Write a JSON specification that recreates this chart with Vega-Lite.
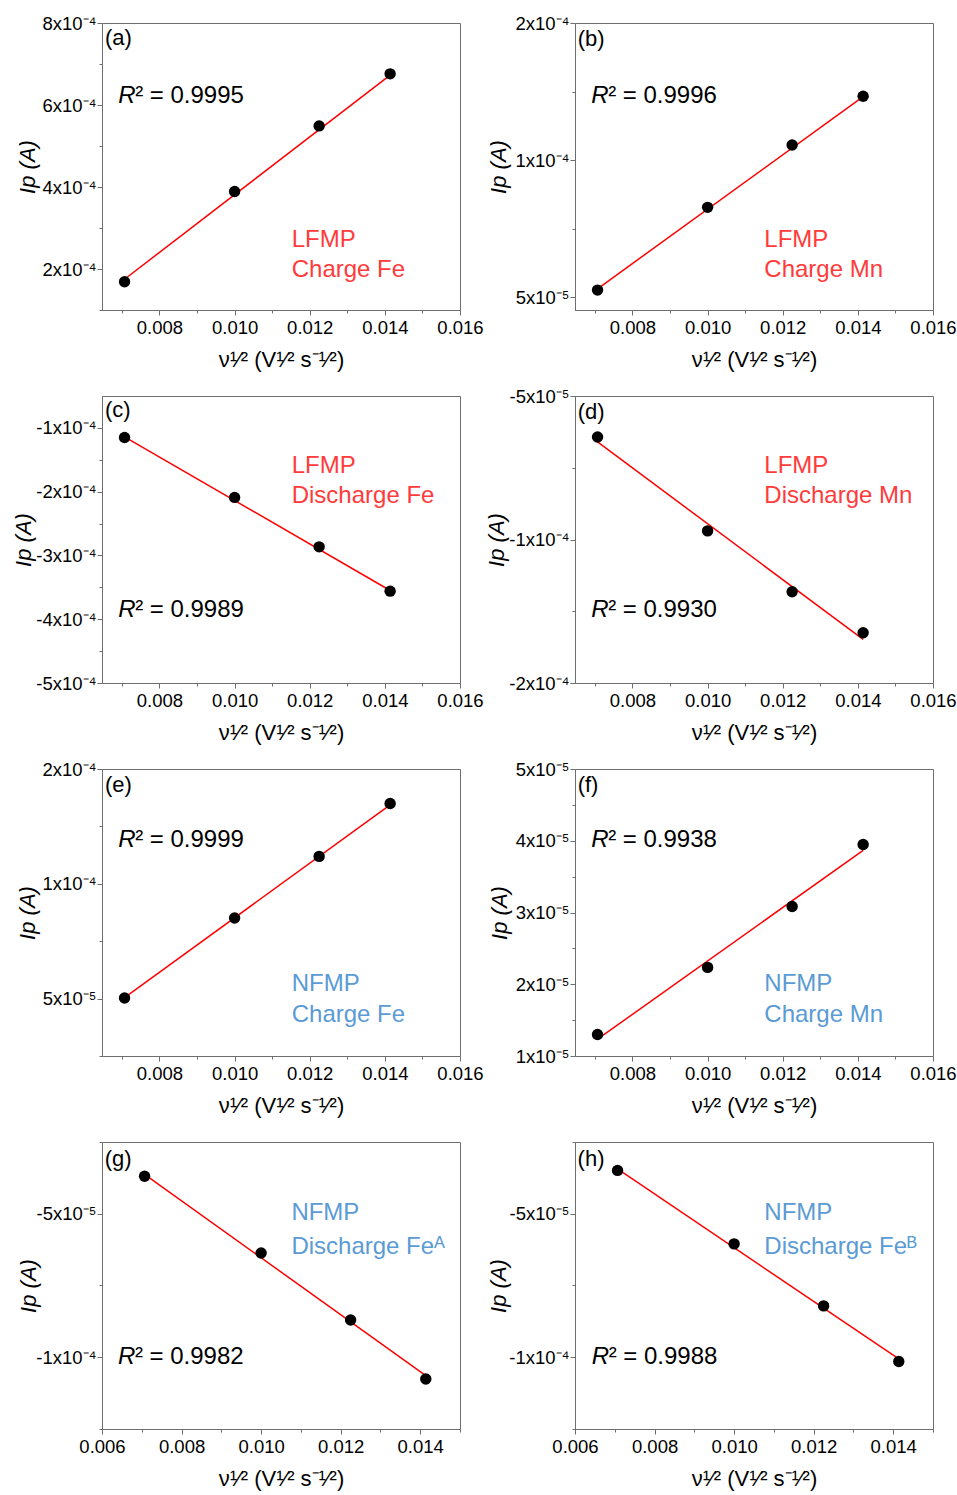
{
"$schema": "https://vega.github.io/schema/vega-lite/v6.json",
"autosize": {"type": "none"},
"padding": {"left": 102, "top": 23, "right": 855, "bottom": 1472},
"background": "white",
"columns": 2,
"spacing": {"row": 86, "column": 115},
"bounds": "flush",
"config": {
  "font": "Liberation Sans",
  "view": {"stroke": "#6e6e6e", "strokeWidth": 1},
  "axis": {"labelFont": "Liberation Sans", "labelFontSize": 18.5, "labelColor": "#000", "titleFont": "Liberation Sans", "titleFontSize": 22, "titleFontWeight": "normal", "titleColor": "#000", "domainColor": "#6e6e6e", "tickColor": "#6e6e6e", "grid": false, "labelFlush": false, "labelOverlap": false, "labelBound": false},
  "text": {"font": "Liberation Sans"}
},
"datasets": {
  "pts": [
    {"p":"a","x":0.00707,"y":0.000169},{"p":"a","x":0.01,"y":0.000389},{"p":"a","x":0.01225,"y":0.000549},{"p":"a","x":0.01414,"y":0.000676},
    {"p":"b","x":0.00707,"y":0.0000538},{"p":"b","x":0.01,"y":0.0000991},{"p":"b","x":0.01225,"y":0.0001332},{"p":"b","x":0.01414,"y":0.0001599},
    {"p":"c","x":0.00707,"y":-0.000115},{"p":"c","x":0.01,"y":-0.000209},{"p":"c","x":0.01225,"y":-0.0002865},{"p":"c","x":0.01414,"y":-0.000356},
    {"p":"d","x":0.00707,"y":-0.0000714},{"p":"d","x":0.01,"y":-0.0001205},{"p":"d","x":0.01225,"y":-0.0001523},{"p":"d","x":0.01414,"y":-0.0001737},
    {"p":"e","x":0.00707,"y":0.0000504},{"p":"e","x":0.01,"y":0.0001027},{"p":"e","x":0.01225,"y":0.0001429},{"p":"e","x":0.01414,"y":0.0001775},
    {"p":"f","x":0.00707,"y":0.000013},{"p":"f","x":0.01,"y":0.00002235},{"p":"f","x":0.01225,"y":0.00003084},{"p":"f","x":0.01414,"y":0.00003947},
    {"p":"g","x":0.00707,"y":-0.00003695},{"p":"g","x":0.01,"y":-0.0000637},{"p":"g","x":0.01225,"y":-0.000087},{"p":"g","x":0.01414,"y":-0.00010757},
    {"p":"h","x":0.00707,"y":-0.0000349},{"p":"h","x":0.01,"y":-0.0000605},{"p":"h","x":0.01225,"y":-0.0000821},{"p":"h","x":0.01414,"y":-0.0001015}
  ],
  "fit": [
    {"p":"a","x":0.00707,"y":0.000175},{"p":"a","x":0.01414,"y":0.000673},
    {"p":"b","x":0.00707,"y":0.0000545},{"p":"b","x":0.01414,"y":0.0001597},
    {"p":"c","x":0.00707,"y":-0.000114},{"p":"c","x":0.01414,"y":-0.000355},
    {"p":"d","x":0.00707,"y":-0.000074},{"p":"d","x":0.01414,"y":-0.0001772},
    {"p":"e","x":0.00707,"y":0.0000507},{"p":"e","x":0.01414,"y":0.0001765},
    {"p":"f","x":0.00707,"y":0.00001234},{"p":"f","x":0.01414,"y":0.00003867},
    {"p":"g","x":0.00707,"y":-0.00003625},{"p":"g","x":0.01414,"y":-0.0001064},
    {"p":"h","x":0.00707,"y":-0.0000344},{"p":"h","x":0.01414,"y":-0.0001006}
  ],
  "ann": [
    {"p":"a","k":"lab","t":"(a)","x":0.00655,"y":0.0007634},
    {"p":"a","k":"R","t":"R","x":0.0069,"y":0.0006049},
    {"p":"a","k":"r2","t":"² = 0.9995","x":0.0069,"y":0.0006049},
    {"p":"a","k":"mat","t":"LFMP","x":0.01152,"y":0.0002544},
    {"p":"a","k":"mat","t":"Charge Fe","x":0.01152,"y":0.0001812},
    {"p":"b","k":"lab","t":"(b)","x":0.00654,"y":0.0001912},
    {"p":"b","k":"R","t":"R","x":0.0069,"y":0.0001562},
    {"p":"b","k":"r2","t":"² = 0.9996","x":0.0069,"y":0.0001562},
    {"p":"b","k":"mat","t":"LFMP","x":0.01151,"y":0.0000775},
    {"p":"b","k":"mat","t":"Charge Mn","x":0.01151,"y":0.0000611},
    {"p":"c","k":"lab","t":"(c)","x":0.00655,"y":-0.000072},
    {"p":"c","k":"R","t":"R","x":0.0069,"y":-0.000397},
    {"p":"c","k":"r2","t":"² = 0.9989","x":0.0069,"y":-0.000397},
    {"p":"c","k":"mat","t":"LFMP","x":0.01152,"y":-0.0001712},
    {"p":"c","k":"mat","t":"Discharge Fe","x":0.01152,"y":-0.00021825},
    {"p":"d","k":"lab","t":"(d)","x":0.00654,"y":-0.0000582},
    {"p":"d","k":"R","t":"R","x":0.0069,"y":-0.0001655},
    {"p":"d","k":"r2","t":"² = 0.9930","x":0.0069,"y":-0.0001655},
    {"p":"d","k":"mat","t":"LFMP","x":0.01151,"y":-0.0000902},
    {"p":"d","k":"mat","t":"Discharge Mn","x":0.01151,"y":-0.0001057},
    {"p":"e","k":"lab","t":"(e)","x":0.00655,"y":0.00018955},
    {"p":"e","k":"R","t":"R","x":0.0069,"y":0.0001492},
    {"p":"e","k":"r2","t":"² = 0.9999","x":0.0069,"y":0.0001492},
    {"p":"e","k":"mat","t":"NFMP","x":0.01152,"y":0.000055},
    {"p":"e","k":"mat","t":"Charge Fe","x":0.01152,"y":0.0000349},
    {"p":"f","k":"lab","t":"(f)","x":0.00654,"y":0.00004777},
    {"p":"f","k":"R","t":"R","x":0.0069,"y":0.00003917},
    {"p":"f","k":"r2","t":"² = 0.9938","x":0.0069,"y":0.00003917},
    {"p":"f","k":"mat","t":"NFMP","x":0.01151,"y":0.00001906},
    {"p":"f","k":"mat","t":"Charge Mn","x":0.01151,"y":0.00001478},
    {"p":"g","k":"lab","t":"(g)","x":0.006068,"y":-0.0000308},
    {"p":"g","k":"R","t":"R","x":0.0064,"y":-0.00010245},
    {"p":"g","k":"r2","t":"² = 0.9982","x":0.0064,"y":-0.00010245},
    {"p":"g","k":"mat","t":"NFMP","x":0.010761,"y":-0.00005228},
    {"p":"g","k":"mat","t":"Discharge Feᴬ","x":0.010761,"y":-0.00006392},
    {"p":"h","k":"lab","t":"(h)","x":0.006065,"y":-0.0000308},
    {"p":"h","k":"R","t":"R","x":0.006418,"y":-0.00010245},
    {"p":"h","k":"r2","t":"² = 0.9988","x":0.006418,"y":-0.00010245},
    {"p":"h","k":"mat","t":"NFMP","x":0.010759,"y":-0.00005228},
    {"p":"h","k":"mat","t":"Discharge Feᴮ","x":0.010759,"y":-0.00006392}
  ]
},
"concat": [
{
 "width": 358, "height": 287,
 "encoding": {
  "x": {"field": "x", "type": "quantitative", "scale": {"domain": [0.00647, 0.016], "nice": false, "zero": false},
        "axis": {"values": [0.007,0.008,0.009,0.01,0.011,0.012,0.013,0.014,0.015,0.016], "labelExpr": "(datum.value == 0.007 || datum.value == 0.009 || datum.value == 0.011 || datum.value == 0.013 || datum.value == 0.015) ? '' : format(datum.value, '.3f')", "tickSize": {"condition": {"test": "datum.value == 0.007 || datum.value == 0.009 || datum.value == 0.011 || datum.value == 0.013 || datum.value == 0.015", "value": 3}, "value": 5}, "labelPadding": 3, "title": "ν¹⁄² (V¹⁄² s⁻¹⁄²)", "titleY": 56, "titleBaseline": "alphabetic"}},
  "y": {"field": "y", "type": "quantitative", "scale": {"domain": [0.0001, 0.0008], "nice": false, "zero": false},
        "axis": {"values": [0.0001,0.0002,0.0003,0.0004,0.0005,0.0006,0.0007,0.0008], "labelExpr": "datum.value == 0.0002 ? '2x10⁻⁴' : datum.value == 0.0004 ? '4x10⁻⁴' : datum.value == 0.0006 ? '6x10⁻⁴' : datum.value == 0.0008 ? '8x10⁻⁴' : ''", "tickSize": {"condition": {"test": "datum.value == 0.0001 || datum.value == 0.0003 || datum.value == 0.0005 || datum.value == 0.0007", "value": 3}, "value": 5}, "labelPadding": 1, "title": "Ip (A)", "titleFontStyle": "italic", "titleX": -75, "titleBaseline": "middle"}}
 },
 "layer": [
  {"data": {"name": "fit"}, "transform": [{"filter": "datum.p == 'a'"}], "mark": {"type": "line", "color": "#ff0000", "strokeWidth": 1.5}, "encoding": {}},
  {"data": {"name": "pts"}, "transform": [{"filter": "datum.p == 'a'"}], "mark": {"type": "circle", "size": 130, "color": "#000", "opacity": 1}},
  {"data": {"name": "ann"}, "transform": [{"filter": "datum.p == 'a' && datum.k == 'lab'"}], "mark": {"type": "text", "fontSize": 22, "color": "#000", "align": "left", "baseline": "middle"}, "encoding": {"text": {"field": "t"}}},
  {"data": {"name": "ann"}, "transform": [{"filter": "datum.p == 'a' && datum.k == 'R'"}], "mark": {"type": "text", "fontSize": 24, "fontStyle": "italic", "color": "#000", "align": "left", "baseline": "alphabetic"}, "encoding": {"text": {"field": "t"}}},
  {"data": {"name": "ann"}, "transform": [{"filter": "datum.p == 'a' && datum.k == 'r2'"}], "mark": {"type": "text", "fontSize": 24, "color": "#000", "align": "left", "baseline": "alphabetic", "dx": 17}, "encoding": {"text": {"field": "t"}}},
  {"data": {"name": "ann"}, "transform": [{"filter": "datum.p == 'a' && datum.k == 'mat'"}], "mark": {"type": "text", "fontSize": 24, "color": "#ff3b3b", "align": "left", "baseline": "alphabetic"}, "encoding": {"text": {"field": "t"}}}
 ]
},
{
 "width": 358, "height": 287,
 "encoding": {
  "x": {"field": "x", "type": "quantitative", "scale": {"domain": [0.00647, 0.016], "nice": false, "zero": false},
        "axis": {"values": [0.007,0.008,0.009,0.01,0.011,0.012,0.013,0.014,0.015,0.016], "labelExpr": "(datum.value == 0.007 || datum.value == 0.009 || datum.value == 0.011 || datum.value == 0.013 || datum.value == 0.015) ? '' : format(datum.value, '.3f')", "tickSize": {"condition": {"test": "datum.value == 0.007 || datum.value == 0.009 || datum.value == 0.011 || datum.value == 0.013 || datum.value == 0.015", "value": 3}, "value": 5}, "labelPadding": 3, "title": "ν¹⁄² (V¹⁄² s⁻¹⁄²)", "titleY": 56, "titleBaseline": "alphabetic"}},
  "y": {"field": "y", "type": "quantitative", "scale": {"domain": [0.0000429, 0.0002], "nice": false, "zero": false},
        "axis": {"values": [0.00005,0.0000875,0.000125,0.0001625,0.0002], "labelExpr": "datum.value == 0.00005 ? '5x10⁻⁵' : datum.value == 0.000125 ? '1x10⁻⁴' : datum.value == 0.0002 ? '2x10⁻⁴' : ''", "tickSize": {"condition": {"test": "datum.value == 0.0000875 || datum.value == 0.0001625", "value": 3}, "value": 5}, "labelPadding": 1, "title": "Ip (A)", "titleFontStyle": "italic", "titleX": -77, "titleBaseline": "middle"}}
 },
 "layer": [
  {"data": {"name": "fit"}, "transform": [{"filter": "datum.p == 'b'"}], "mark": {"type": "line", "color": "#ff0000", "strokeWidth": 1.5}, "encoding": {}},
  {"data": {"name": "pts"}, "transform": [{"filter": "datum.p == 'b'"}], "mark": {"type": "circle", "size": 130, "color": "#000", "opacity": 1}},
  {"data": {"name": "ann"}, "transform": [{"filter": "datum.p == 'b' && datum.k == 'lab'"}], "mark": {"type": "text", "fontSize": 22, "color": "#000", "align": "left", "baseline": "middle"}, "encoding": {"text": {"field": "t"}}},
  {"data": {"name": "ann"}, "transform": [{"filter": "datum.p == 'b' && datum.k == 'R'"}], "mark": {"type": "text", "fontSize": 24, "fontStyle": "italic", "color": "#000", "align": "left", "baseline": "alphabetic"}, "encoding": {"text": {"field": "t"}}},
  {"data": {"name": "ann"}, "transform": [{"filter": "datum.p == 'b' && datum.k == 'r2'"}], "mark": {"type": "text", "fontSize": 24, "color": "#000", "align": "left", "baseline": "alphabetic", "dx": 17}, "encoding": {"text": {"field": "t"}}},
  {"data": {"name": "ann"}, "transform": [{"filter": "datum.p == 'b' && datum.k == 'mat'"}], "mark": {"type": "text", "fontSize": 24, "color": "#ff3b3b", "align": "left", "baseline": "alphabetic"}, "encoding": {"text": {"field": "t"}}}
 ]
},
{
 "width": 358, "height": 287,
 "encoding": {
  "x": {"field": "x", "type": "quantitative", "scale": {"domain": [0.00647, 0.016], "nice": false, "zero": false},
        "axis": {"values": [0.007,0.008,0.009,0.01,0.011,0.012,0.013,0.014,0.015,0.016], "labelExpr": "(datum.value == 0.007 || datum.value == 0.009 || datum.value == 0.011 || datum.value == 0.013 || datum.value == 0.015) ? '' : format(datum.value, '.3f')", "tickSize": {"condition": {"test": "datum.value == 0.007 || datum.value == 0.009 || datum.value == 0.011 || datum.value == 0.013 || datum.value == 0.015", "value": 3}, "value": 5}, "labelPadding": 3, "title": "ν¹⁄² (V¹⁄² s⁻¹⁄²)", "titleY": 56, "titleBaseline": "alphabetic"}},
  "y": {"field": "y", "type": "quantitative", "scale": {"domain": [-0.0005, -0.00005], "nice": false, "zero": false},
        "axis": {"values": [-0.0005,-0.00045,-0.0004,-0.00035,-0.0003,-0.00025,-0.0002,-0.00015,-0.0001], "labelExpr": "datum.value == -0.0005 ? '-5x10⁻⁴' : datum.value == -0.0004 ? '-4x10⁻⁴' : datum.value == -0.0003 ? '-3x10⁻⁴' : datum.value == -0.0002 ? '-2x10⁻⁴' : datum.value == -0.0001 ? '-1x10⁻⁴' : ''", "tickSize": {"condition": {"test": "datum.value == -0.00045 || datum.value == -0.00035 || datum.value == -0.00025 || datum.value == -0.00015", "value": 3}, "value": 5}, "labelPadding": 1, "title": "Ip (A)", "titleFontStyle": "italic", "titleX": -79, "titleBaseline": "middle"}}
 },
 "layer": [
  {"data": {"name": "fit"}, "transform": [{"filter": "datum.p == 'c'"}], "mark": {"type": "line", "color": "#ff0000", "strokeWidth": 1.5}, "encoding": {}},
  {"data": {"name": "pts"}, "transform": [{"filter": "datum.p == 'c'"}], "mark": {"type": "circle", "size": 130, "color": "#000", "opacity": 1}},
  {"data": {"name": "ann"}, "transform": [{"filter": "datum.p == 'c' && datum.k == 'lab'"}], "mark": {"type": "text", "fontSize": 22, "color": "#000", "align": "left", "baseline": "middle"}, "encoding": {"text": {"field": "t"}}},
  {"data": {"name": "ann"}, "transform": [{"filter": "datum.p == 'c' && datum.k == 'R'"}], "mark": {"type": "text", "fontSize": 24, "fontStyle": "italic", "color": "#000", "align": "left", "baseline": "alphabetic"}, "encoding": {"text": {"field": "t"}}},
  {"data": {"name": "ann"}, "transform": [{"filter": "datum.p == 'c' && datum.k == 'r2'"}], "mark": {"type": "text", "fontSize": 24, "color": "#000", "align": "left", "baseline": "alphabetic", "dx": 17}, "encoding": {"text": {"field": "t"}}},
  {"data": {"name": "ann"}, "transform": [{"filter": "datum.p == 'c' && datum.k == 'mat'"}], "mark": {"type": "text", "fontSize": 24, "color": "#ff3b3b", "align": "left", "baseline": "alphabetic"}, "encoding": {"text": {"field": "t"}}}
 ]
},
{
 "width": 358, "height": 287,
 "encoding": {
  "x": {"field": "x", "type": "quantitative", "scale": {"domain": [0.00647, 0.016], "nice": false, "zero": false},
        "axis": {"values": [0.007,0.008,0.009,0.01,0.011,0.012,0.013,0.014,0.015,0.016], "labelExpr": "(datum.value == 0.007 || datum.value == 0.009 || datum.value == 0.011 || datum.value == 0.013 || datum.value == 0.015) ? '' : format(datum.value, '.3f')", "tickSize": {"condition": {"test": "datum.value == 0.007 || datum.value == 0.009 || datum.value == 0.011 || datum.value == 0.013 || datum.value == 0.015", "value": 3}, "value": 5}, "labelPadding": 3, "title": "ν¹⁄² (V¹⁄² s⁻¹⁄²)", "titleY": 56, "titleBaseline": "alphabetic"}},
  "y": {"field": "y", "type": "quantitative", "scale": {"domain": [-0.0002, -0.00005], "nice": false, "zero": false},
        "axis": {"values": [-0.0002,-0.0001625,-0.000125,-0.0000875,-0.00005], "labelExpr": "datum.value == -0.0002 ? '-2x10⁻⁴' : datum.value == -0.000125 ? '-1x10⁻⁴' : datum.value == -0.00005 ? '-5x10⁻⁵' : ''", "tickSize": {"condition": {"test": "datum.value == -0.0001625 || datum.value == -0.0000875", "value": 3}, "value": 5}, "labelPadding": 1, "title": "Ip (A)", "titleFontStyle": "italic", "titleX": -79, "titleBaseline": "middle"}}
 },
 "layer": [
  {"data": {"name": "fit"}, "transform": [{"filter": "datum.p == 'd'"}], "mark": {"type": "line", "color": "#ff0000", "strokeWidth": 1.5}, "encoding": {}},
  {"data": {"name": "pts"}, "transform": [{"filter": "datum.p == 'd'"}], "mark": {"type": "circle", "size": 130, "color": "#000", "opacity": 1}},
  {"data": {"name": "ann"}, "transform": [{"filter": "datum.p == 'd' && datum.k == 'lab'"}], "mark": {"type": "text", "fontSize": 22, "color": "#000", "align": "left", "baseline": "middle"}, "encoding": {"text": {"field": "t"}}},
  {"data": {"name": "ann"}, "transform": [{"filter": "datum.p == 'd' && datum.k == 'R'"}], "mark": {"type": "text", "fontSize": 24, "fontStyle": "italic", "color": "#000", "align": "left", "baseline": "alphabetic"}, "encoding": {"text": {"field": "t"}}},
  {"data": {"name": "ann"}, "transform": [{"filter": "datum.p == 'd' && datum.k == 'r2'"}], "mark": {"type": "text", "fontSize": 24, "color": "#000", "align": "left", "baseline": "alphabetic", "dx": 17}, "encoding": {"text": {"field": "t"}}},
  {"data": {"name": "ann"}, "transform": [{"filter": "datum.p == 'd' && datum.k == 'mat'"}], "mark": {"type": "text", "fontSize": 24, "color": "#ff3b3b", "align": "left", "baseline": "alphabetic"}, "encoding": {"text": {"field": "t"}}}
 ]
},
{
 "width": 358, "height": 287,
 "encoding": {
  "x": {"field": "x", "type": "quantitative", "scale": {"domain": [0.00647, 0.016], "nice": false, "zero": false},
        "axis": {"values": [0.007,0.008,0.009,0.01,0.011,0.012,0.013,0.014,0.015,0.016], "labelExpr": "(datum.value == 0.007 || datum.value == 0.009 || datum.value == 0.011 || datum.value == 0.013 || datum.value == 0.015) ? '' : format(datum.value, '.3f')", "tickSize": {"condition": {"test": "datum.value == 0.007 || datum.value == 0.009 || datum.value == 0.011 || datum.value == 0.013 || datum.value == 0.015", "value": 3}, "value": 5}, "labelPadding": 3, "title": "ν¹⁄² (V¹⁄² s⁻¹⁄²)", "titleY": 56, "titleBaseline": "alphabetic"}},
  "y": {"field": "y", "type": "quantitative", "scale": {"domain": [0.0000125, 0.0002], "nice": false, "zero": false},
        "axis": {"values": [0.0000125,0.00005,0.0000875,0.000125,0.0001625,0.0002], "labelExpr": "datum.value == 0.00005 ? '5x10⁻⁵' : datum.value == 0.000125 ? '1x10⁻⁴' : datum.value == 0.0002 ? '2x10⁻⁴' : ''", "tickSize": {"condition": {"test": "datum.value == 0.0000125 || datum.value == 0.0000875 || datum.value == 0.0001625", "value": 3}, "value": 5}, "labelPadding": 1, "title": "Ip (A)", "titleFontStyle": "italic", "titleX": -75, "titleBaseline": "middle"}}
 },
 "layer": [
  {"data": {"name": "fit"}, "transform": [{"filter": "datum.p == 'e'"}], "mark": {"type": "line", "color": "#ff0000", "strokeWidth": 1.5}, "encoding": {}},
  {"data": {"name": "pts"}, "transform": [{"filter": "datum.p == 'e'"}], "mark": {"type": "circle", "size": 130, "color": "#000", "opacity": 1}},
  {"data": {"name": "ann"}, "transform": [{"filter": "datum.p == 'e' && datum.k == 'lab'"}], "mark": {"type": "text", "fontSize": 22, "color": "#000", "align": "left", "baseline": "middle"}, "encoding": {"text": {"field": "t"}}},
  {"data": {"name": "ann"}, "transform": [{"filter": "datum.p == 'e' && datum.k == 'R'"}], "mark": {"type": "text", "fontSize": 24, "fontStyle": "italic", "color": "#000", "align": "left", "baseline": "alphabetic"}, "encoding": {"text": {"field": "t"}}},
  {"data": {"name": "ann"}, "transform": [{"filter": "datum.p == 'e' && datum.k == 'r2'"}], "mark": {"type": "text", "fontSize": 24, "color": "#000", "align": "left", "baseline": "alphabetic", "dx": 17}, "encoding": {"text": {"field": "t"}}},
  {"data": {"name": "ann"}, "transform": [{"filter": "datum.p == 'e' && datum.k == 'mat'"}], "mark": {"type": "text", "fontSize": 24, "color": "#5b9bd5", "align": "left", "baseline": "alphabetic"}, "encoding": {"text": {"field": "t"}}}
 ]
},
{
 "width": 358, "height": 287,
 "encoding": {
  "x": {"field": "x", "type": "quantitative", "scale": {"domain": [0.00647, 0.016], "nice": false, "zero": false},
        "axis": {"values": [0.007,0.008,0.009,0.01,0.011,0.012,0.013,0.014,0.015,0.016], "labelExpr": "(datum.value == 0.007 || datum.value == 0.009 || datum.value == 0.011 || datum.value == 0.013 || datum.value == 0.015) ? '' : format(datum.value, '.3f')", "tickSize": {"condition": {"test": "datum.value == 0.007 || datum.value == 0.009 || datum.value == 0.011 || datum.value == 0.013 || datum.value == 0.015", "value": 3}, "value": 5}, "labelPadding": 3, "title": "ν¹⁄² (V¹⁄² s⁻¹⁄²)", "titleY": 56, "titleBaseline": "alphabetic"}},
  "y": {"field": "y", "type": "quantitative", "scale": {"domain": [0.00001, 0.00005], "nice": false, "zero": false},
        "axis": {"values": [0.00001,0.000015,0.00002,0.000025,0.00003,0.000035,0.00004,0.000045,0.00005], "labelExpr": "datum.value == 0.00001 ? '1x10⁻⁵' : datum.value == 0.00002 ? '2x10⁻⁵' : datum.value == 0.00003 ? '3x10⁻⁵' : datum.value == 0.00004 ? '4x10⁻⁵' : datum.value == 0.00005 ? '5x10⁻⁵' : ''", "tickSize": {"condition": {"test": "datum.value == 0.000015 || datum.value == 0.000025 || datum.value == 0.000035 || datum.value == 0.000045", "value": 3}, "value": 5}, "labelPadding": 1, "title": "Ip (A)", "titleFontStyle": "italic", "titleX": -76, "titleBaseline": "middle"}}
 },
 "layer": [
  {"data": {"name": "fit"}, "transform": [{"filter": "datum.p == 'f'"}], "mark": {"type": "line", "color": "#ff0000", "strokeWidth": 1.5}, "encoding": {}},
  {"data": {"name": "pts"}, "transform": [{"filter": "datum.p == 'f'"}], "mark": {"type": "circle", "size": 130, "color": "#000", "opacity": 1}},
  {"data": {"name": "ann"}, "transform": [{"filter": "datum.p == 'f' && datum.k == 'lab'"}], "mark": {"type": "text", "fontSize": 22, "color": "#000", "align": "left", "baseline": "middle"}, "encoding": {"text": {"field": "t"}}},
  {"data": {"name": "ann"}, "transform": [{"filter": "datum.p == 'f' && datum.k == 'R'"}], "mark": {"type": "text", "fontSize": 24, "fontStyle": "italic", "color": "#000", "align": "left", "baseline": "alphabetic"}, "encoding": {"text": {"field": "t"}}},
  {"data": {"name": "ann"}, "transform": [{"filter": "datum.p == 'f' && datum.k == 'r2'"}], "mark": {"type": "text", "fontSize": 24, "color": "#000", "align": "left", "baseline": "alphabetic", "dx": 17}, "encoding": {"text": {"field": "t"}}},
  {"data": {"name": "ann"}, "transform": [{"filter": "datum.p == 'f' && datum.k == 'mat'"}], "mark": {"type": "text", "fontSize": 24, "color": "#5b9bd5", "align": "left", "baseline": "alphabetic"}, "encoding": {"text": {"field": "t"}}}
 ]
},
{
 "width": 358, "height": 287,
 "encoding": {
  "x": {"field": "x", "type": "quantitative", "scale": {"domain": [0.006, 0.015], "nice": false, "zero": false},
        "axis": {"values": [0.006,0.007,0.008,0.009,0.01,0.011,0.012,0.013,0.014,0.015], "labelExpr": "(datum.value == 0.007 || datum.value == 0.009 || datum.value == 0.011 || datum.value == 0.013 || datum.value == 0.015) ? '' : format(datum.value, '.3f')", "tickSize": {"condition": {"test": "datum.value == 0.007 || datum.value == 0.009 || datum.value == 0.011 || datum.value == 0.013 || datum.value == 0.015", "value": 3}, "value": 5}, "labelPadding": 3, "title": "ν¹⁄² (V¹⁄² s⁻¹⁄²)", "titleY": 56, "titleBaseline": "alphabetic"}},
  "y": {"field": "y", "type": "quantitative", "scale": {"domain": [-0.000125, -0.000025], "nice": false, "zero": false},
        "axis": {"values": [-0.000125,-0.0001,-0.000075,-0.00005,-0.000025], "labelExpr": "datum.value == -0.0001 ? '-1x10⁻⁴' : datum.value == -0.00005 ? '-5x10⁻⁵' : ''", "tickSize": {"condition": {"test": "datum.value == -0.000125 || datum.value == -0.000075 || datum.value == -0.000025", "value": 3}, "value": 5}, "labelPadding": 1, "title": "Ip (A)", "titleFontStyle": "italic", "titleX": -74, "titleBaseline": "middle"}}
 },
 "layer": [
  {"data": {"name": "fit"}, "transform": [{"filter": "datum.p == 'g'"}], "mark": {"type": "line", "color": "#ff0000", "strokeWidth": 1.5}, "encoding": {}},
  {"data": {"name": "pts"}, "transform": [{"filter": "datum.p == 'g'"}], "mark": {"type": "circle", "size": 130, "color": "#000", "opacity": 1}},
  {"data": {"name": "ann"}, "transform": [{"filter": "datum.p == 'g' && datum.k == 'lab'"}], "mark": {"type": "text", "fontSize": 22, "color": "#000", "align": "left", "baseline": "middle"}, "encoding": {"text": {"field": "t"}}},
  {"data": {"name": "ann"}, "transform": [{"filter": "datum.p == 'g' && datum.k == 'R'"}], "mark": {"type": "text", "fontSize": 24, "fontStyle": "italic", "color": "#000", "align": "left", "baseline": "alphabetic"}, "encoding": {"text": {"field": "t"}}},
  {"data": {"name": "ann"}, "transform": [{"filter": "datum.p == 'g' && datum.k == 'r2'"}], "mark": {"type": "text", "fontSize": 24, "color": "#000", "align": "left", "baseline": "alphabetic", "dx": 17}, "encoding": {"text": {"field": "t"}}},
  {"data": {"name": "ann"}, "transform": [{"filter": "datum.p == 'g' && datum.k == 'mat'"}], "mark": {"type": "text", "fontSize": 24, "color": "#5b9bd5", "align": "left", "baseline": "alphabetic"}, "encoding": {"text": {"field": "t"}}}
 ]
},
{
 "width": 358, "height": 287,
 "encoding": {
  "x": {"field": "x", "type": "quantitative", "scale": {"domain": [0.006, 0.015], "nice": false, "zero": false},
        "axis": {"values": [0.006,0.007,0.008,0.009,0.01,0.011,0.012,0.013,0.014,0.015], "labelExpr": "(datum.value == 0.007 || datum.value == 0.009 || datum.value == 0.011 || datum.value == 0.013 || datum.value == 0.015) ? '' : format(datum.value, '.3f')", "tickSize": {"condition": {"test": "datum.value == 0.007 || datum.value == 0.009 || datum.value == 0.011 || datum.value == 0.013 || datum.value == 0.015", "value": 3}, "value": 5}, "labelPadding": 3, "title": "ν¹⁄² (V¹⁄² s⁻¹⁄²)", "titleY": 56, "titleBaseline": "alphabetic"}},
  "y": {"field": "y", "type": "quantitative", "scale": {"domain": [-0.000125, -0.000025], "nice": false, "zero": false},
        "axis": {"values": [-0.000125,-0.0001,-0.000075,-0.00005,-0.000025], "labelExpr": "datum.value == -0.0001 ? '-1x10⁻⁴' : datum.value == -0.00005 ? '-5x10⁻⁵' : ''", "tickSize": {"condition": {"test": "datum.value == -0.000125 || datum.value == -0.000075 || datum.value == -0.000025", "value": 3}, "value": 5}, "labelPadding": 1, "title": "Ip (A)", "titleFontStyle": "italic", "titleX": -77, "titleBaseline": "middle"}}
 },
 "layer": [
  {"data": {"name": "fit"}, "transform": [{"filter": "datum.p == 'h'"}], "mark": {"type": "line", "color": "#ff0000", "strokeWidth": 1.5}, "encoding": {}},
  {"data": {"name": "pts"}, "transform": [{"filter": "datum.p == 'h'"}], "mark": {"type": "circle", "size": 130, "color": "#000", "opacity": 1}},
  {"data": {"name": "ann"}, "transform": [{"filter": "datum.p == 'h' && datum.k == 'lab'"}], "mark": {"type": "text", "fontSize": 22, "color": "#000", "align": "left", "baseline": "middle"}, "encoding": {"text": {"field": "t"}}},
  {"data": {"name": "ann"}, "transform": [{"filter": "datum.p == 'h' && datum.k == 'R'"}], "mark": {"type": "text", "fontSize": 24, "fontStyle": "italic", "color": "#000", "align": "left", "baseline": "alphabetic"}, "encoding": {"text": {"field": "t"}}},
  {"data": {"name": "ann"}, "transform": [{"filter": "datum.p == 'h' && datum.k == 'r2'"}], "mark": {"type": "text", "fontSize": 24, "color": "#000", "align": "left", "baseline": "alphabetic", "dx": 17}, "encoding": {"text": {"field": "t"}}},
  {"data": {"name": "ann"}, "transform": [{"filter": "datum.p == 'h' && datum.k == 'mat'"}], "mark": {"type": "text", "fontSize": 24, "color": "#5b9bd5", "align": "left", "baseline": "alphabetic"}, "encoding": {"text": {"field": "t"}}}
 ]
}
]
}
